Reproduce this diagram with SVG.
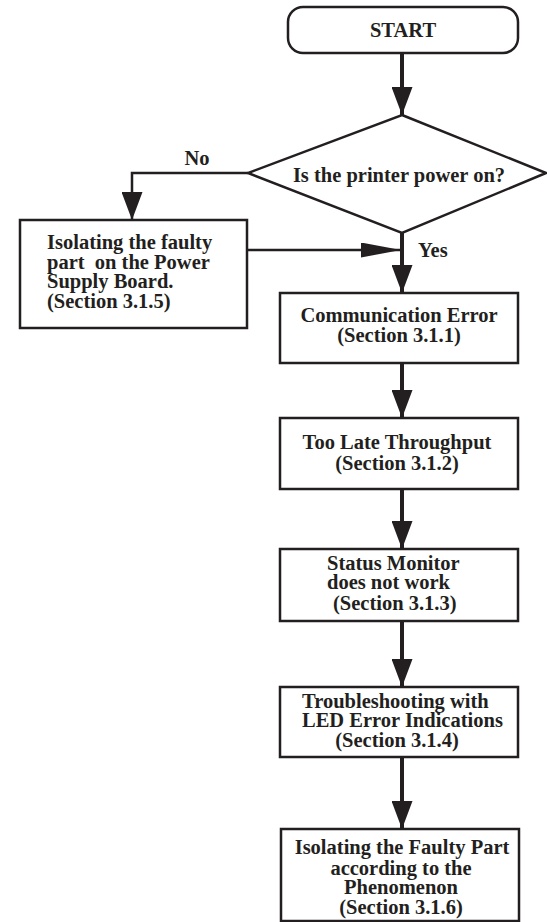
<svg xmlns="http://www.w3.org/2000/svg" width="547" height="922" viewBox="0 0 547 922">
<style>
.box{fill:#fff;stroke:#231f20;stroke-width:2.5}
.t{font-family:"Liberation Serif","Times New Roman",serif;font-weight:bold;font-size:20.5px;fill:#231f20}
.c{text-anchor:middle}
.ln{fill:none;stroke:#231f20}
.thick{stroke-width:4}
.thin{stroke-width:2.5}
</style>
<defs>
<marker id="ah" markerUnits="userSpaceOnUse" markerWidth="28" markerHeight="21" refX="28" refY="10.5" orient="auto" viewBox="0 0 28 21">
<path d="M0,0 L28,10.5 L0,21 Z" fill="#231f20"/>
</marker>
<marker id="ahl" markerUnits="userSpaceOnUse" markerWidth="40" markerHeight="15" refX="40" refY="7.5" orient="auto" viewBox="0 0 40 15">
<path d="M0,0 L40,7.5 L0,15 Z" fill="#231f20"/>
</marker>
</defs>
<g id="connectors">
<line class="ln thick" x1="402" y1="53" x2="402" y2="115" marker-end="url(#ah)"/>
<polyline class="ln thin" points="248,173 132,173 132,220" marker-end="url(#ah)"/>
<line class="ln thick" x1="402" y1="233" x2="402" y2="293" marker-end="url(#ah)"/>
<line class="ln thin" x1="247" y1="250" x2="401" y2="250" marker-end="url(#ahl)"/>
<line class="ln thick" x1="402" y1="363" x2="402" y2="418" marker-end="url(#ah)"/>
<line class="ln thick" x1="402" y1="489" x2="402" y2="549" marker-end="url(#ah)"/>
<line class="ln thick" x1="402" y1="621" x2="402" y2="687" marker-end="url(#ah)"/>
<line class="ln thick" x1="402" y1="757" x2="402" y2="829" marker-end="url(#ah)"/>
<text class="t c" x="197" y="165">No</text>
<text class="t" x="418" y="257">Yes</text>
</g>
<g id="start">
<rect class="box" x="288" y="7" width="230" height="46" rx="15"/>
<text class="t c" x="403" y="37">START</text>
</g>
<g id="decision">
<polygon class="box" points="402,115 546,173 402,233 248,173"/>
<text class="t c" x="399" y="182">Is the printer power on?</text>
</g>
<g id="power-supply">
<rect class="box" x="20" y="220" width="227" height="108"/>
<text class="t" x="47" y="249" xml:space="preserve">Isolating the faulty</text>
<text class="t" x="47" y="269" xml:space="preserve">part  on the Power</text>
<text class="t" x="47" y="288">Supply Board.</text>
<text class="t" x="47" y="308">(Section 3.1.5)</text>
</g>
<g id="comm-error">
<rect class="box" x="280" y="293" width="238" height="70"/>
<text class="t c" x="399" y="322">Communication Error</text>
<text class="t c" x="399" y="342">(Section 3.1.1)</text>
</g>
<g id="throughput">
<rect class="box" x="280" y="418" width="238" height="71"/>
<text class="t c" x="397" y="449">Too Late Throughput</text>
<text class="t c" x="397" y="470">(Section 3.1.2)</text>
</g>
<g id="status-monitor">
<rect class="box" x="280" y="549" width="238" height="72"/>
<text class="t" x="327" y="570">Status Monitor</text>
<text class="t" x="327" y="589">does not work</text>
<text class="t" x="333" y="610">(Section 3.1.3)</text>
</g>
<g id="led-error">
<rect class="box" x="280" y="687" width="238" height="70"/>
<text class="t" x="302" y="708">Troubleshooting with</text>
<text class="t" x="302" y="727">LED Error Indications</text>
<text class="t c" x="397" y="747">(Section 3.1.4)</text>
</g>
<g id="phenomenon">
<rect class="box" x="281" y="829" width="238" height="92"/>
<text class="t c" x="402" y="854">Isolating the Faulty Part</text>
<text class="t c" x="401" y="875">according to the</text>
<text class="t c" x="401" y="894">Phenomenon</text>
<text class="t c" x="401" y="914">(Section 3.1.6)</text>
</g>
</svg>
